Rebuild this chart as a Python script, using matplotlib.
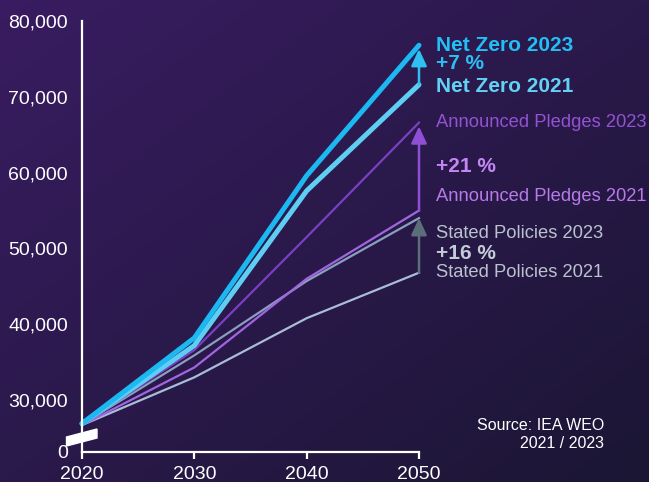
import numpy as np
import matplotlib
matplotlib.use('Agg')
import matplotlib.pyplot as plt
from matplotlib.patches import Polygon

plt.rcParams['font.family'] = ['Liberation Sans', 'DejaVu Sans']

years = [2020, 2030, 2040, 2050]
nz_2023 = [26900, 38200, 59600, 76800]
nz_2021 = [26900, 37200, 57600, 71600]
ap_2023 = [26800, 36600, 51500, 66600]
ap_2021 = [26700, 34300, 46000, 55000]
sp_2023 = [26800, 35900, 45700, 54000]
sp_2021 = [26700, 33000, 40800, 46800]
y_ticks = [30000, 40000, 50000, 60000, 70000, 80000]
y_floor = 23150

fig = plt.figure(figsize=(6.49, 4.82), dpi=100)

# background gradient
bg = fig.add_axes([0, 0, 1, 1])
gx, gy = np.meshgrid(np.linspace(0, 1, 200), np.linspace(0, 1, 200))
t = np.clip((gx + gy) / 2, 0, 1)
c0 = np.array([0x39, 0x1c, 0x61]) / 255
c1 = np.array([0x1b, 0x16, 0x34]) / 255
img = c0[None, None, :] * (1 - t[..., None]) + c1[None, None, :] * t[..., None]
bg.imshow(img, aspect='auto', extent=[0, 1, 0, 1], origin='upper')
bg.axis('off')

ax = fig.add_axes([82 / 649, 30 / 482, 337 / 649, 431 / 482])
ax.patch.set_alpha(0)

ax.plot(years, sp_2021, color='#a9bdd8', lw=1.6, clip_on=False)
ax.plot(years, sp_2023, color='#8a9ec0', lw=1.6, clip_on=False)
ax.plot(years, ap_2021, color='#a066e0', lw=1.6, clip_on=False)
ax.plot(years, ap_2023, color='#7a40c4', lw=1.6, clip_on=False)
ax.plot(years, nz_2021, color='#5ecff2', lw=3.6, clip_on=False, solid_capstyle='round')
ax.plot(years, nz_2023, color='#1bb8f2', lw=3.6, clip_on=False, solid_capstyle='round')

def arrow(y0, y1, color, lw):
    ax.annotate('', xy=(2050, y1), xytext=(2050, y0),
                arrowprops=dict(arrowstyle='-|>,head_length=0.6,head_width=0.28',
                                mutation_scale=17, color=color, lw=lw,
                                shrinkA=0, shrinkB=0))

arrow(nz_2021[-1], nz_2023[-1] - 500, '#2fc0f2', 1.8)
arrow(ap_2021[-1], ap_2023[-1] - 500, '#8f4fd4', 1.8)
arrow(sp_2021[-1], sp_2023[-1], '#5c6e78', 1.8)

def label(y, text, color, dy=0, bold=False, size=13.2):
    ax.annotate(text, xy=(2050, y), xytext=(12, dy), textcoords='offset points',
                va='center', ha='left', color=color, fontsize=size,
                fontweight='bold' if bold else 'normal', annotation_clip=False)

label(nz_2023[-1], 'Net Zero 2023', '#22bff5', bold=True, size=15)
label((nz_2023[-1] + nz_2021[-1]) / 2, '+7 %', '#2ac0f2', dy=1, bold=True, size=15)
label(nz_2021[-1], 'Net Zero 2021', '#62d2f4', dy=-1, bold=True, size=15)
label(ap_2023[-1], 'Announced Pledges 2023', '#9352d2')
label((ap_2023[-1] + ap_2021[-1]) / 2, '+21 %', '#c386f2', bold=True, size=15)
label(ap_2021[-1], 'Announced Pledges 2021', '#b77ae8', dy=10)
label(sp_2023[-1], 'Stated Policies 2023', '#b9c2ce', dy=-11)
label((sp_2023[-1] + sp_2021[-1]) / 2, '+16 %', '#c4ccd6', dy=-6, bold=True, size=15)
label(sp_2021[-1], 'Stated Policies 2021', '#b9c2ce')

ax.set_xlim(2020, 2050)
ax.set_ylim(y_floor, 80000)
ax.set_xticks(years)
ax.set_yticks([y_floor] + y_ticks)
ax.set_yticklabels(['0'] + [f'{v:,}' for v in y_ticks])
for s in ['top', 'right']:
    ax.spines[s].set_visible(False)
for s in ['left', 'bottom']:
    ax.spines[s].set_color('white')
    ax.spines[s].set_linewidth(1.6)
ax.tick_params(axis='y', length=0, pad=10, labelcolor='white', labelsize=14)
ax.tick_params(axis='x', length=5, width=1.6, color='white', pad=5,
               labelcolor='white', labelsize=14)

# axis break marker
W, H = 649, 482
pts = [(66.5, 437), (97, 429), (97, 438), (66.5, 446)]
fig.patches.append(Polygon([(x / W, 1 - y / H) for x, y in pts], closed=True,
                           transform=fig.transFigure, facecolor='white',
                           edgecolor='white', zorder=5))

fig.text(604 / W, 1 - 425 / H, 'Source: IEA WEO', ha='right', va='center',
         color='white', fontsize=11.5)
fig.text(604 / W, 1 - 443 / H, '2021 / 2023', ha='right', va='center',
         color='white', fontsize=11.5)

fig.savefig('out.png', dpi=100)
